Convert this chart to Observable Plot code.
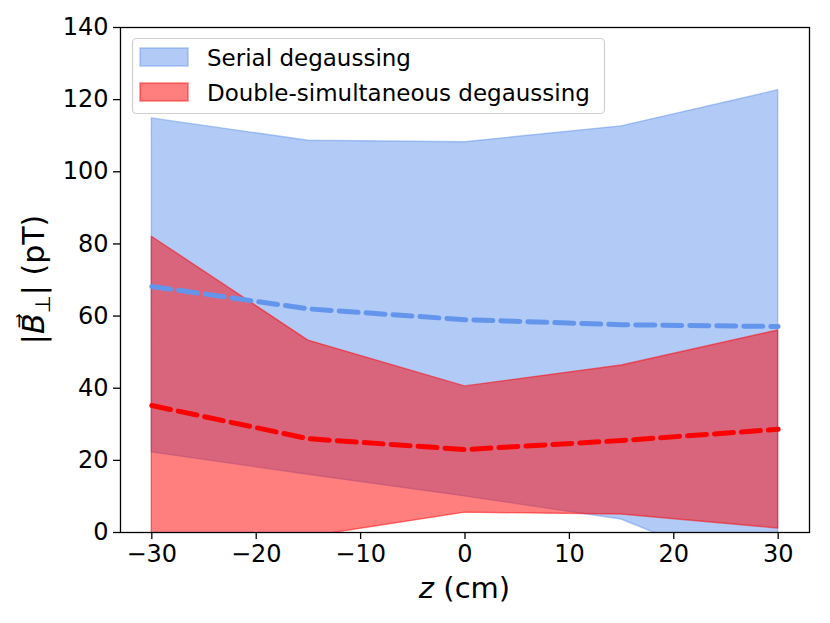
<!DOCTYPE html>
<html><head><meta charset="utf-8">
<script src="https://cdn.jsdelivr.net/npm/d3@7"></script>
<script src="https://cdn.jsdelivr.net/npm/@observablehq/plot@0.6"></script>
<style>
body{margin:0;background:#fff;}
#chart{width:830px;height:623px;}
</style>
</head><body><div id="chart"></div>
<script>
// Data
const zPositions = [-30, -15, 0, 15, 30];
const serialLow  = [22.2, 16.0, 10.0, 3.6, -14.0];
const serialHigh = [114.8, 108.6, 108.2, 112.6, 122.6];
const serialMean = [68.2, 62.0, 59.0, 57.6, 57.1];
const doubleLow  = [-12.0, -1.2, 5.5, 5.0, 1.1];
const doubleHigh = [82.0, 53.2, 40.5, 46.3, 56.0];
const doubleMean = [35.2, 26.0, 23.0, 25.5, 28.6];
const xTicks = [-30, -20, -10, 0, 10, 20, 30];
const yTicks = [0, 20, 40, 60, 80, 100, 120, 140];
const seriesNames = ["Serial degaussing", "Double-simultaneous degaussing"];
const seriesColors = ["#6495ED", "#FF0000"];

const serial = zPositions.map((z, i) => ({z, lo: serialLow[i], hi: serialHigh[i], m: serialMean[i]}));
const dbl = zPositions.map((z, i) => ({z, lo: doubleLow[i], hi: doubleHigh[i], m: doubleMean[i]}));

const W = 830, H = 623, mL = 120, mR = 21, mT = 27, mB = 91;

const chart = Plot.plot({
  width: W, height: H,
  marginLeft: mL, marginRight: mR, marginTop: mT, marginBottom: mB,
  x: {domain: [-33, 33]},
  y: {domain: [0, 140]},
  style: {fontFamily: "DejaVu Sans", fontSize: "24px", color: "#000", background: "#fff"},
  marks: [
    Plot.areaY(serial, {x: "z", y1: "lo", y2: "hi", fill: seriesColors[0], fillOpacity: 0.5,
      stroke: seriesColors[0], strokeOpacity: 0.5, strokeWidth: 1.4, clip: true}),
    Plot.areaY(dbl, {x: "z", y1: "lo", y2: "hi", fill: seriesColors[1], fillOpacity: 0.5,
      stroke: seriesColors[1], strokeOpacity: 0.5, strokeWidth: 1.4, clip: true}),
    Plot.lineY(serial, {x: "z", y: "m", stroke: seriesColors[0], strokeWidth: 5, strokeDasharray: "19,8", clip: true}),
    Plot.lineY(dbl, {x: "z", y: "m", stroke: seriesColors[1], strokeWidth: 5, strokeDasharray: "19,8", clip: true}),
    Plot.frame({stroke: "#000", strokeWidth: 1.3}),
    Plot.axisX({ticks: xTicks, tickSize: 7, tickPadding: 5, label: null, fontSize: 24, strokeWidth: 1.3}),
    Plot.axisY({ticks: yTicks, tickSize: 7, tickPadding: 5, label: null, fontSize: 24, strokeWidth: 1.3})
  ]
});
document.getElementById("chart").appendChild(chart);

const svg = d3.select(chart);
// x label
const xl = svg.append("text")
  .attr("x", (mL + (W - mR)) / 2).attr("y", 598)
  .attr("text-anchor", "middle")
  .style("font-family", "DejaVu Sans").style("font-size", "29px").attr("fill", "#000");
xl.append("tspan").style("font-style", "italic").text("z");
xl.append("tspan").text(" (cm)");

// y label
const yl = svg.append("text")
  .attr("transform", `translate(44,${(mT + (H - mB)) / 2}) rotate(-90)`)
  .attr("text-anchor", "middle")
  .style("font-family", "DejaVu Sans").style("font-size", "30px").attr("fill", "#000");
yl.append("tspan").text("|");
yl.append("tspan").style("font-style", "italic").text("B\u20D7");
yl.append("tspan").attr("dy", 6).style("font-size", "21px").text("\u22A5");
yl.append("tspan").attr("dy", -6).text("| (pT)");

// legend
const lg = svg.append("g").attr("text-anchor", "start");
lg.append("rect").attr("x", 132.5).attr("y", 38.5).attr("width", 472).attr("height", 75)
  .attr("rx", 4).attr("fill", "#fff").attr("fill-opacity", 0.8).attr("stroke", "#d0d0d0").attr("stroke-width", 1.2);
seriesNames.forEach((name, i) => {
  const y0 = 48 + i * 35;
  lg.append("rect").attr("x", 140).attr("y", y0).attr("width", 48).attr("height", 18)
    .attr("fill", seriesColors[i]).attr("fill-opacity", 0.5)
    .attr("stroke", seriesColors[i]).attr("stroke-opacity", 0.5).attr("stroke-width", 1.4);
  lg.append("text").attr("x", 207).attr("y", 66 + i * 34.5).attr("text-anchor", "start")
    .style("font-family", "DejaVu Sans").style("font-size", "23px").attr("fill", "#000").text(name);
});
</script>
</body></html>
